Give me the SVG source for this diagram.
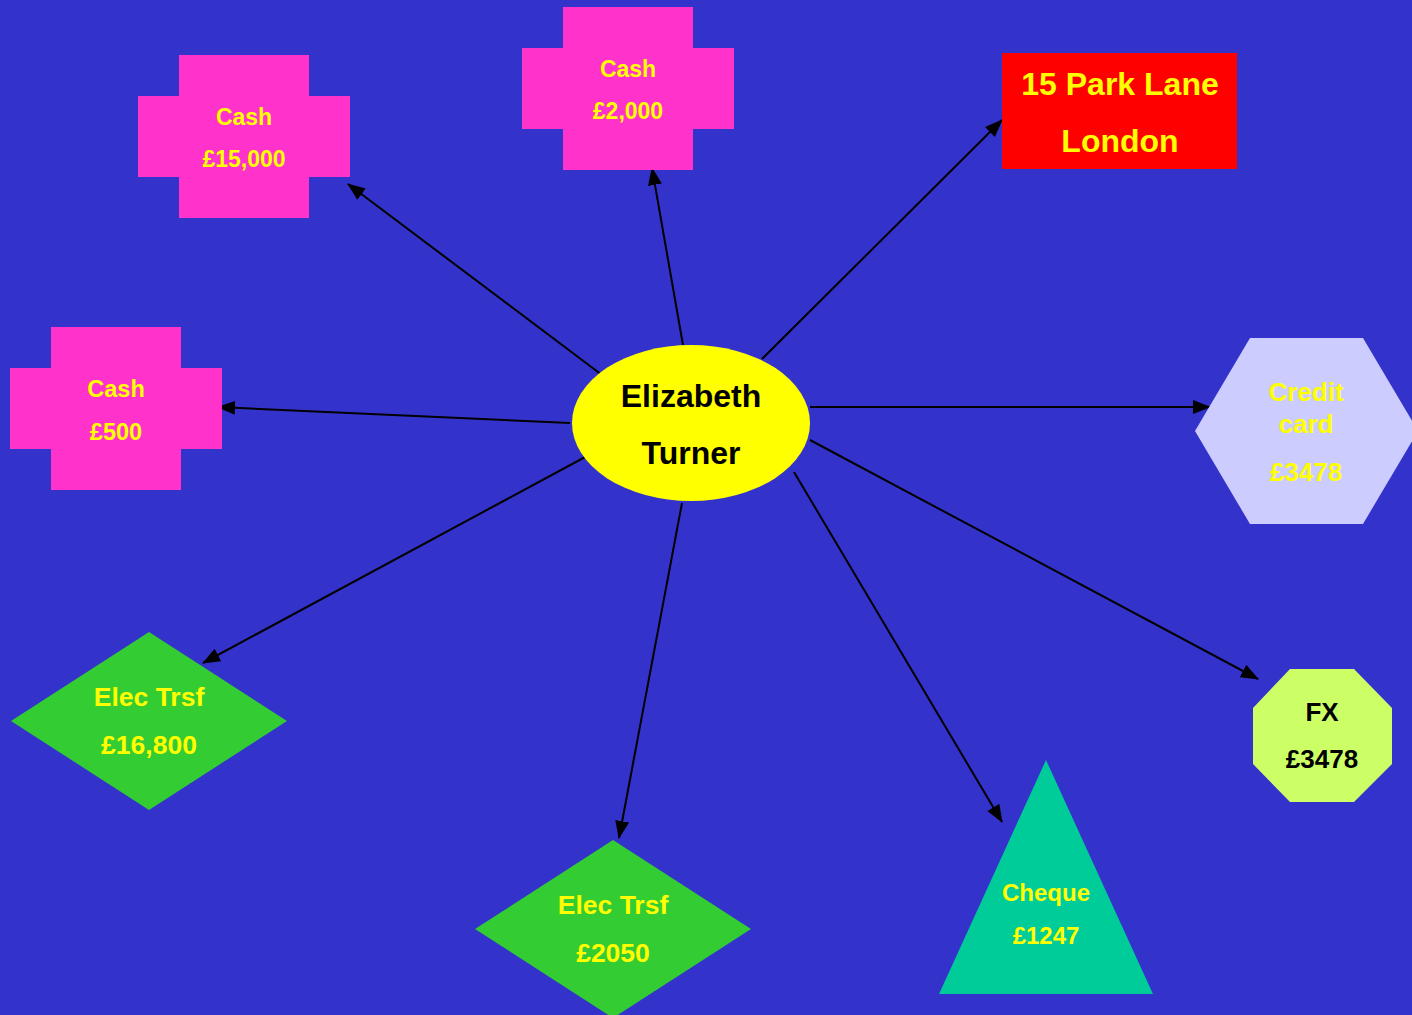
<svg xmlns="http://www.w3.org/2000/svg" width="1412" height="1015" viewBox="0 0 1412 1015">
<style>
text{font-family:"Liberation Sans",Arial,sans-serif;font-weight:bold;text-anchor:middle}
.y{fill:#FFFF00}
.k{fill:#000000}
.cross{fill:#FF33CC}
.edge{stroke:#000;stroke-width:2;fill:none;marker-end:url(#ah)}
</style>
<defs>
<marker id="ah" markerUnits="userSpaceOnUse" markerWidth="20" markerHeight="16" refX="17" refY="8" orient="auto">
<path d="M0,1 L18,8 L0,15 Z" fill="#000"/>
</marker>
</defs>
<rect width="1412" height="1015" fill="#3333CC"/>
<g id="connectors">
<line class="edge" x1="602" y1="375" x2="348" y2="184"/>
<line class="edge" x1="683" y1="345" x2="652" y2="168"/>
<line class="edge" x1="762" y1="359" x2="1002" y2="120"/>
<line class="edge" x1="810" y1="407" x2="1210" y2="407"/>
<line class="edge" x1="810" y1="440" x2="1258" y2="679"/>
<line class="edge" x1="794" y1="472" x2="1002" y2="822"/>
<line class="edge" x1="682" y1="503" x2="619" y2="838"/>
<line class="edge" x1="587" y1="456" x2="203" y2="663"/>
<line class="edge" x1="570" y1="423" x2="218" y2="407"/>
</g>
<g id="center">
<ellipse cx="691" cy="423" rx="119" ry="78" fill="#FFFF00"/>
<text class="k" x="691" y="407" font-size="32">Elizabeth</text>
<text class="k" x="691" y="464" font-size="32">Turner</text>
</g>
<g id="cash15000">
<path class="cross" d="M179,55 H309 V96 H350 V177 H309 V218 H179 V177 H138 V96 H179 Z"/>
<text class="y" x="244" y="125" font-size="23">Cash</text>
<text class="y" x="244" y="167" font-size="23">£15,000</text>
</g>
<g id="cash2000">
<path class="cross" d="M563,7 H693 V48 H734 V129 H693 V170 H563 V129 H522 V48 H563 Z"/>
<text class="y" x="628" y="77" font-size="23">Cash</text>
<text class="y" x="628" y="119" font-size="23">£2,000</text>
</g>
<g id="cash500">
<path class="cross" d="M51,327 H181 V368 H222 V449 H181 V490 H51 V449 H10 V368 H51 Z"/>
<text class="y" x="116" y="397" font-size="23.5">Cash</text>
<text class="y" x="116" y="440" font-size="23.5">£500</text>
</g>
<g id="address">
<rect x="1002" y="53" width="235" height="116" fill="#FF0000"/>
<text class="y" x="1120" y="95" font-size="32">15 Park Lane</text>
<text class="y" x="1120" y="152" font-size="32">London</text>
</g>
<g id="credit">
<polygon points="1250,338 1363,338 1418,431 1363,524 1250,524 1195,431" fill="#CCCCFF"/>
<text class="y" x="1306" y="401" font-size="26">Credit</text>
<text class="y" x="1306" y="433" font-size="26">card</text>
<text class="y" x="1306" y="481" font-size="26">£3478</text>
</g>
<g id="fx">
<polygon points="1290,669 1354,669 1392,708 1392,764 1354,802 1290,802 1253,764 1253,708" fill="#CCFF66"/>
<text class="k" x="1322" y="721" font-size="26">FX</text>
<text class="k" x="1322" y="768" font-size="26">£3478</text>
</g>
<g id="cheque">
<polygon points="1046,760 1153,994 939,994" fill="#00CC99"/>
<text class="y" x="1046" y="901" font-size="24">Cheque</text>
<text class="y" x="1046" y="944" font-size="24">£1247</text>
</g>
<g id="elec16800">
<polygon points="149,632 287,721 149,810 11,721" fill="#33CC33"/>
<text class="y" x="149" y="706" font-size="26.5">Elec Trsf</text>
<text class="y" x="149" y="754" font-size="26.5">£16,800</text>
</g>
<g id="elec2050">
<polygon points="613,840 751,929 613,1018 475,929" fill="#33CC33"/>
<text class="y" x="613" y="914" font-size="26.5">Elec Trsf</text>
<text class="y" x="613" y="962" font-size="26.5">£2050</text>
</g>
</svg>
